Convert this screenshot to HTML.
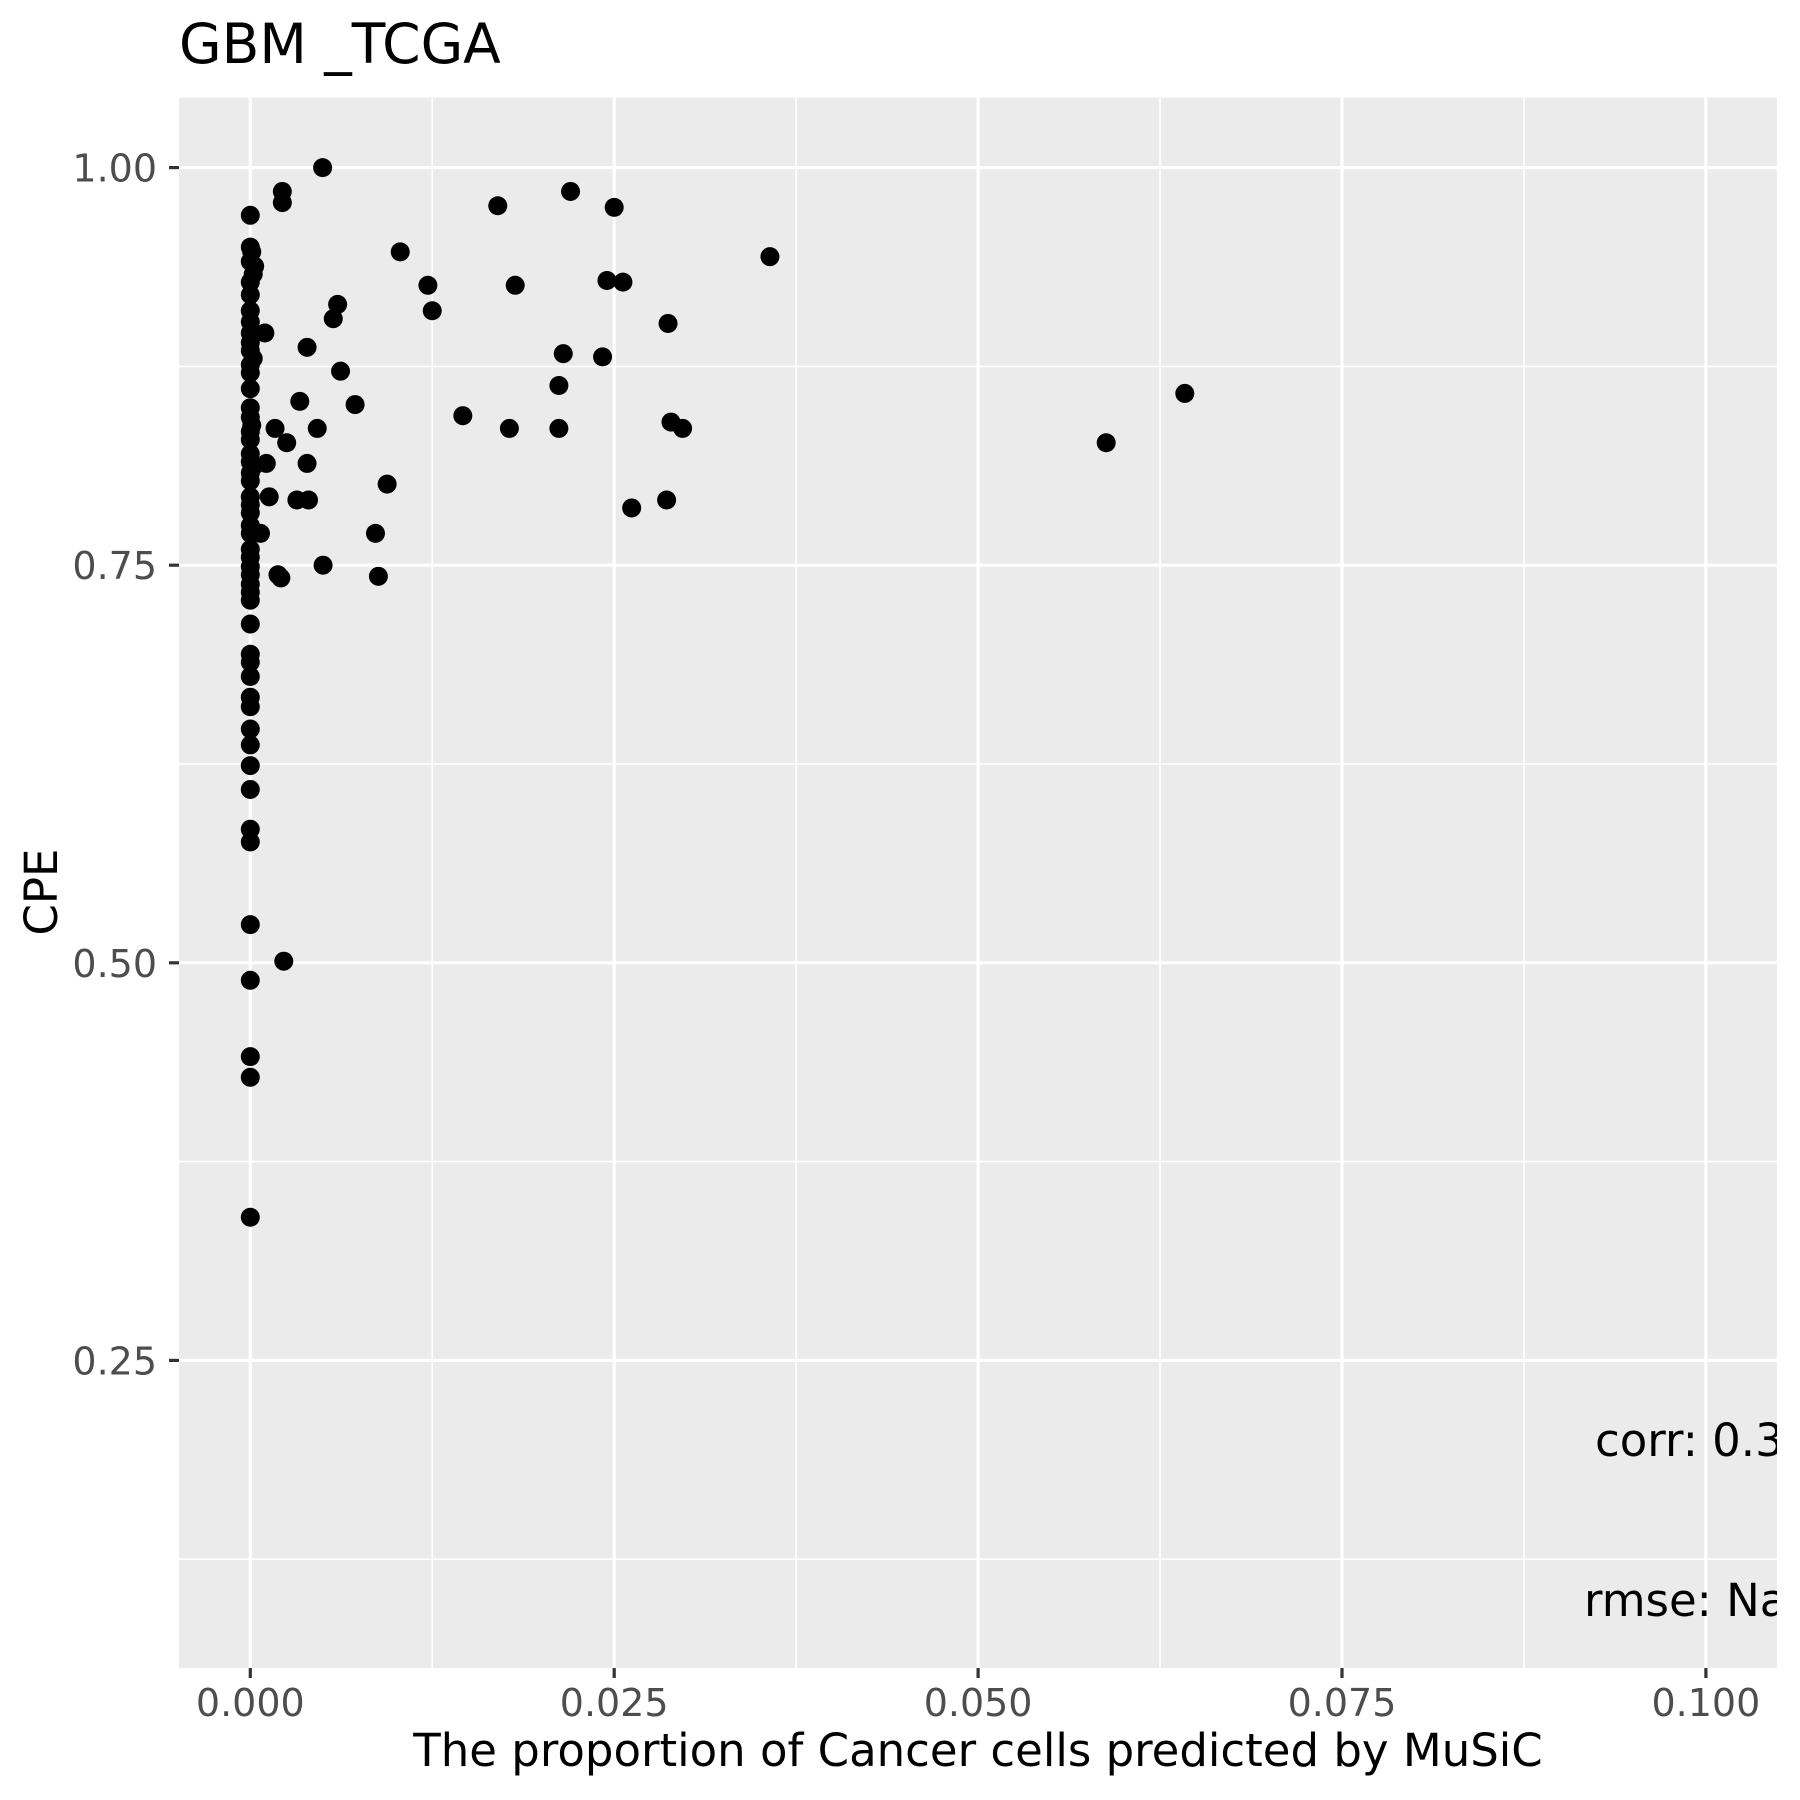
<!DOCTYPE html>
<html><head><meta charset="utf-8"><style>html,body{margin:0;padding:0;background:#fff}svg{display:block}</style></head>
<body>
<svg id="chart" width="1800" height="1800" viewBox="0 0 1800 1800" xmlns="http://www.w3.org/2000/svg" font-family="'DejaVu Sans','Liberation Sans',sans-serif">
<defs><clipPath id="pc"><rect x="179" y="97.6" width="1598" height="1570.4"/></clipPath></defs>
<rect x="179" y="97.6" width="1598" height="1570.4" fill="#ebebeb"/>
<g id="grid"></g>
<g id="ticks"></g>
<g id="points" clip-path="url(#pc)"></g>
<text x="179" y="63" font-size="55" fill="#000">GBM _TCGA</text>
<text x="978" y="1766" font-size="45" text-anchor="middle" fill="#000">The proportion of Cancer cells predicted by MuSiC</text>
<text transform="translate(57,892) rotate(-90)" font-size="45" text-anchor="middle" fill="#000">CPE</text>
<g clip-path="url(#pc)">
<text x="1595" y="1456" font-size="45" fill="#000">corr: 0.35</text>
<text x="1584" y="1616" font-size="45" fill="#000">rmse: NaN</text>
</g>
</svg>
<script>
const xTicks=[0,0.025,0.05,0.075,0.1];
const xTickLabels=["0.000","0.025","0.050","0.075","0.100"];
const yTicks=[0.25,0.5,0.75,1.0];
const yTickLabels=["0.25","0.50","0.75","1.00"];
const xMinor=[0.0125,0.0375,0.0625,0.0875];
const yMinor=[0.125,0.375,0.625,0.875];
const xVals=[0.00497,0.0022,0.0022,0.0170,0.0220,0.0250,0.0103,0.0357,0.0122,0.0125,0.0182,0.0245,0.0256,0.0060,0.0057,0.0287,0.0010,0.0039,0.0215,0.0242,0.0062,0.0212,0.0642,0.0034,0.0072,0.0146,0.0289,0.0017,0.0046,0.0178,0.0212,0.0297,0.0025,0.0588,0.0011,0.0039,0.0094,0.0013,0.0032,0.0040,0.0286,0.0262,0.0007,0.0086,0.0050,0.0019,0.0021,0.0088,0.0023,
0,0,0.0001,0,0.0003,0.0002,0,0,0,0,0,0,0,0.0002,0,0,0,0,0,0.0001,0,0,0,0,0.0002,0,0,0,0,0,0,0,0,0,0,0,0,0,0,0,0,0,0,0,0,0,0,0,0,0,0,0,0,0,0,0];
const yVals=[1.000,0.985,0.978,0.976,0.985,0.975,0.947,0.944,0.926,0.910,0.926,0.929,0.928,0.914,0.905,0.902,0.896,0.887,0.883,0.881,0.872,0.863,0.858,0.853,0.851,0.844,0.840,0.836,0.836,0.836,0.836,0.836,0.827,0.827,0.814,0.814,0.801,0.793,0.791,0.791,0.791,0.786,0.770,0.770,0.750,0.744,0.742,0.743,0.501,
0.970,0.950,0.947,0.941,0.938,0.933,0.928,0.920,0.910,0.903,0.896,0.890,0.885,0.880,0.876,0.871,0.861,0.849,0.843,0.838,0.834,0.829,0.820,0.815,0.812,0.808,0.803,0.793,0.788,0.783,0.775,0.770,0.760,0.755,0.749,0.744,0.738,0.733,0.728,0.713,0.694,0.689,0.680,0.667,0.661,0.647,0.637,0.624,0.609,0.584,0.576,0.524,0.489,0.441,0.428,0.340];
const NS="http://www.w3.org/2000/svg";
const L=179,R=1777,T=97.6,B=1668;
function sx(v){return 250.3+v*14556;}
function sy(v){return 167.6+(1-v)*1590.4;}
const grid=document.getElementById('grid'),ticks=document.getElementById('ticks'),pts=document.getElementById('points');
function line(p,x1,y1,x2,y2,w,c,n){const l=document.createElementNS(NS,'line');l.setAttribute('x1',x1);l.setAttribute('y1',y1);l.setAttribute('x2',x2);l.setAttribute('y2',y2);l.setAttribute('stroke',c);l.setAttribute('stroke-width',w);


p.appendChild(l);}
xMinor.forEach(v=>line(grid,sx(v),T,sx(v),B,1.6,'#fff','x-minor-gridline'));
yMinor.forEach(v=>line(grid,L,sy(v),R,sy(v),1.6,'#fff','y-minor-gridline'));
xTicks.forEach((v,i)=>{line(grid,sx(v),T,sx(v),B,3.2,'#fff','x-major-gridline');line(ticks,sx(v),B,sx(v),B+10,3.2,'#333','x-tick');
const t=document.createElementNS(NS,'text');t.setAttribute('x',sx(v));t.setAttribute('y',1716);t.setAttribute('font-size','38');t.setAttribute('fill','#4d4d4d');t.setAttribute('text-anchor','middle');t.textContent=xTickLabels[i];


ticks.appendChild(t);});
yTicks.forEach((v,i)=>{line(grid,L,sy(v),R,sy(v),3.2,'#fff','y-major-gridline');line(ticks,L-10,sy(v),L,sy(v),3.2,'#333','y-tick');
const t=document.createElementNS(NS,'text');t.setAttribute('x',157);t.setAttribute('y',sy(v)+14);t.setAttribute('font-size','38');t.setAttribute('fill','#4d4d4d');t.setAttribute('text-anchor','end');t.textContent=yTickLabels[i];


ticks.appendChild(t);});
xVals.forEach((v,i)=>{const c=document.createElementNS(NS,'circle');c.setAttribute('cx',sx(v));c.setAttribute('cy',sy(yVals[i]));c.setAttribute('r',9.5);c.setAttribute('fill','#000');


pts.appendChild(c);});
</script>
</body></html>
